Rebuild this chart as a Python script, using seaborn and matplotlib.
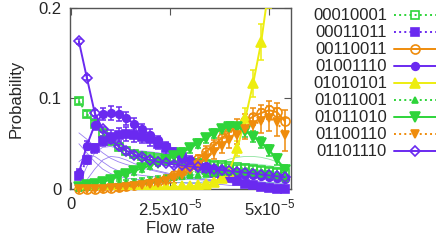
import matplotlib
matplotlib.use('Agg')
import matplotlib.pyplot as plt
import seaborn as sns
import numpy as np

flow_rate = np.array([0.2, 0.4, 0.6, 0.8, 1.0, 1.2, 1.4, 1.6, 1.8, 2.0, 2.2, 2.4, 2.6, 2.8,
                      3.0, 3.2, 3.4, 3.6, 3.8, 4.0, 4.2, 4.4, 4.6, 4.8, 5.0, 5.2, 5.4]) * 1e-5

labels = ['00010001', '00011011', '00110011', '01001110', '01010101',
          '01011001', '01011010', '01100110', '01101110']

p_00010001 = [0.097, 0.083, 0.072, 0.062, 0.053, 0.046, 0.042, 0.039, 0.037, 0.035, 0.034, 0.033, 0.032, 0.031,
              0.030, 0.029, 0.028, 0.027, 0.026, 0.025, 0.024, 0.023, 0.022, 0.021, 0.020, 0.019, 0.018]
p_00011011 = [0.014, 0.032, 0.045, 0.053, 0.058, 0.060, 0.061, 0.060, 0.058, 0.055, 0.050, 0.045, 0.040, 0.035,
              0.030, 0.026, 0.022, 0.018, 0.015, 0.012, 0.009, 0.006, 0.004, 0.002, 0.001, 0.0, 0.0]
p_00110011 = [0.0, 0.0, 0.0, 0.001, 0.001, 0.002, 0.003, 0.004, 0.005, 0.007, 0.009, 0.011, 0.015, 0.020,
              0.026, 0.033, 0.041, 0.048, 0.056, 0.063, 0.069, 0.075, 0.080, 0.084, 0.087, 0.085, 0.075]
p_01001110 = [0.018, 0.048, 0.071, 0.083, 0.084, 0.083, 0.078, 0.072, 0.066, 0.060, 0.054, 0.047, 0.041, 0.036,
              0.032, 0.028, 0.025, 0.022, 0.020, 0.018, 0.017, 0.016, 0.015, 0.014, 0.013, 0.012, 0.011]
p_01010101 = [0.001, 0.001, 0.001, 0.001, 0.001, 0.001, 0.001, 0.001, 0.001, 0.002, 0.002, 0.002, 0.002, 0.003,
              0.003, 0.004, 0.006, 0.008, 0.012, 0.020, 0.045, 0.078, 0.117, 0.162, 0.225, 0.290, 0.350]
p_01011001 = [0.001, 0.002, 0.003, 0.004, 0.005, 0.006, 0.007, 0.008, 0.009, 0.010, 0.011, 0.012, 0.013, 0.014,
              0.015, 0.016, 0.017, 0.018, 0.019, 0.019, 0.019, 0.019, 0.018, 0.017, 0.016, 0.014, 0.012]
p_01011010 = [0.002, 0.004, 0.006, 0.008, 0.010, 0.014, 0.017, 0.020, 0.023, 0.026, 0.029, 0.032, 0.036, 0.040,
              0.045, 0.050, 0.056, 0.061, 0.066, 0.069, 0.068, 0.064, 0.058, 0.051, 0.043, 0.033, 0.021]
p_01100110 = [0.0, 0.0, 0.0, 0.0, 0.001, 0.001, 0.002, 0.003, 0.004, 0.005, 0.007, 0.009, 0.012, 0.016,
              0.021, 0.027, 0.034, 0.041, 0.048, 0.054, 0.060, 0.066, 0.071, 0.075, 0.078, 0.074, 0.060]
p_01101110 = [0.163, 0.123, 0.084, 0.066, 0.055, 0.047, 0.042, 0.038, 0.035, 0.032, 0.030, 0.029, 0.027, 0.026,
              0.025, 0.024, 0.023, 0.022, 0.021, 0.020, 0.019, 0.018, 0.017, 0.016, 0.015, 0.014, 0.013]

# error bar half-widths
e_small = [0.003] * 27
e_00011011 = [0.003, 0.004, 0.005, 0.006, 0.007, 0.007, 0.008, 0.008, 0.007, 0.007, 0.006, 0.006, 0.005, 0.005,
              0.004, 0.004, 0.004, 0.003, 0.003, 0.003, 0.002, 0.002, 0.002, 0.001, 0.001, 0.001, 0.001]
e_00110011 = [0.001, 0.001, 0.001, 0.001, 0.001, 0.001, 0.002, 0.002, 0.002, 0.003, 0.003, 0.003, 0.004, 0.004,
              0.005, 0.005, 0.006, 0.006, 0.007, 0.007, 0.008, 0.008, 0.009, 0.009, 0.010, 0.010, 0.012]
e_01001110 = [0.004, 0.005, 0.006, 0.007, 0.008, 0.008, 0.007, 0.007, 0.006, 0.006, 0.005, 0.005, 0.004, 0.004,
              0.004, 0.003, 0.003, 0.003, 0.003, 0.003, 0.002, 0.002, 0.002, 0.002, 0.002, 0.002, 0.002]
e_01010101 = [0.001, 0.001, 0.001, 0.001, 0.001, 0.001, 0.001, 0.001, 0.001, 0.001, 0.001, 0.001, 0.001, 0.001,
              0.001, 0.002, 0.002, 0.002, 0.003, 0.004, 0.008, 0.012, 0.015, 0.020, 0.025, 0.030, 0.030]
e_01011010 = [0.002, 0.002, 0.002, 0.003, 0.003, 0.003, 0.003, 0.004, 0.004, 0.004, 0.004, 0.005, 0.005, 0.005,
              0.005, 0.005, 0.005, 0.005, 0.005, 0.005, 0.005, 0.006, 0.006, 0.006, 0.006, 0.006, 0.005]
e_01100110 = [0.001, 0.001, 0.001, 0.001, 0.001, 0.002, 0.002, 0.002, 0.003, 0.003, 0.004, 0.004, 0.005, 0.005,
              0.006, 0.006, 0.007, 0.008, 0.008, 0.009, 0.010, 0.011, 0.012, 0.013, 0.014, 0.015, 0.018]

# thin background curves (other genotypes)
bg_purple = [
    [0.062, 0.055, 0.047, 0.040, 0.034, 0.030, 0.027, 0.025, 0.023, 0.021, 0.019, 0.017, 0.015, 0.013,
     0.012, 0.011, 0.010, 0.009, 0.008, 0.007, 0.006, 0.005, 0.005, 0.004, 0.004, 0.003, 0.003],
    [0.005, 0.025, 0.040, 0.046, 0.047, 0.045, 0.043, 0.042, 0.042, 0.041, 0.040, 0.038, 0.036, 0.033,
     0.030, 0.027, 0.024, 0.021, 0.018, 0.015, 0.013, 0.011, 0.009, 0.008, 0.007, 0.006, 0.005],
    [0.050, 0.040, 0.030, 0.022, 0.017, 0.014, 0.012, 0.011, 0.010, 0.009, 0.008, 0.008, 0.007, 0.007,
     0.006, 0.006, 0.005, 0.005, 0.005, 0.004, 0.004, 0.004, 0.003, 0.003, 0.003, 0.002, 0.002],
    [0.002, 0.010, 0.022, 0.032, 0.036, 0.035, 0.032, 0.028, 0.025, 0.022, 0.020, 0.018, 0.016, 0.014,
     0.013, 0.012, 0.011, 0.010, 0.009, 0.008, 0.007, 0.006, 0.005, 0.004, 0.003, 0.003, 0.002],
    [0.030, 0.038, 0.036, 0.030, 0.024, 0.020, 0.018, 0.016, 0.015, 0.014, 0.013, 0.012, 0.012, 0.011,
     0.011, 0.010, 0.010, 0.009, 0.009, 0.008, 0.008, 0.007, 0.007, 0.006, 0.006, 0.005, 0.005],
]
bg_green = [
    [0.000, 0.001, 0.002, 0.003, 0.004, 0.005, 0.006, 0.007, 0.008, 0.009, 0.010, 0.012, 0.014, 0.016,
     0.018, 0.021, 0.024, 0.027, 0.030, 0.033, 0.035, 0.036, 0.036, 0.035, 0.033, 0.030, 0.026],
    [0.000, 0.001, 0.002, 0.002, 0.003, 0.004, 0.005, 0.006, 0.007, 0.008, 0.009, 0.010, 0.011, 0.013,
     0.015, 0.017, 0.019, 0.021, 0.023, 0.025, 0.027, 0.028, 0.028, 0.027, 0.026, 0.024, 0.022],
    [0.001, 0.002, 0.003, 0.004, 0.005, 0.006, 0.007, 0.008, 0.009, 0.010, 0.011, 0.012, 0.013, 0.014,
     0.015, 0.016, 0.017, 0.018, 0.019, 0.020, 0.021, 0.022, 0.022, 0.021, 0.020, 0.019, 0.018],
    [0.001, 0.002, 0.003, 0.004, 0.005, 0.006, 0.007, 0.007, 0.008, 0.008, 0.009, 0.009, 0.010, 0.010,
     0.011, 0.011, 0.012, 0.013, 0.014, 0.015, 0.015, 0.015, 0.015, 0.014, 0.013, 0.012, 0.011],
    [0.002, 0.003, 0.004, 0.004, 0.005, 0.005, 0.005, 0.006, 0.006, 0.006, 0.006, 0.007, 0.007, 0.007,
     0.007, 0.007, 0.008, 0.008, 0.008, 0.008, 0.008, 0.008, 0.008, 0.007, 0.007, 0.007, 0.006],
]
bg_green_colors = ['#8fe3a0', '#a0e8c0', '#9ee0f0', '#80c8e0', '#70b0d0']

purple = '#6a2af0'
green = '#2ed43a'
orange = '#ef8c0c'
yellow = '#eded10'

# label, values, errors, color, linestyle, marker, filled, marker size
series = [
    (labels[0], p_00010001, e_small, green, ':', 's', False, 5.5),
    (labels[1], p_00011011, e_00011011, purple, ':', 's', True, 5.5),
    (labels[2], p_00110011, e_00110011, orange, '-', 'o', False, 6.5),
    (labels[3], p_01001110, e_01001110, purple, '-', 'o', True, 5.5),
    (labels[4], p_01010101, e_01010101, yellow, '-', '^', True, 6.5),
    (labels[5], p_01011001, e_small, green, ':', '^', True, 4),
    (labels[6], p_01011010, e_01011010, green, '-', 'v', True, 6.5),
    (labels[7], p_01100110, e_01100110, orange, ':', 'v', True, 5.5),
    (labels[8], p_01101110, e_small, purple, '-', 'D', False, 5.5),
]

sns.set_style('ticks')
plt.rcParams['font.family'] = ['Liberation Sans', 'DejaVu Sans']
plt.rcParams['mathtext.fontset'] = 'custom'
plt.rcParams['mathtext.rm'] = 'Liberation Sans'

fig = plt.figure(figsize=(4.36, 2.42), dpi=100)
ax = fig.add_axes([0.161, 0.219, 0.507, 0.748])

for ys in bg_purple:
    sns.lineplot(x=flow_rate, y=ys, ax=ax, color='#9a80f0', lw=0.6, legend=False)
for ys, c in zip(bg_green, bg_green_colors):
    sns.lineplot(x=flow_rate, y=ys, ax=ax, color=c, lw=0.6, legend=False)

handles = []
for lab, ys, es, col, ls, mk, filled, ms in series:
    clip = (lab == '01010101')
    ax.errorbar(flow_rate, ys, yerr=es, fmt='none', ecolor=col, elinewidth=1.1,
                capsize=2, capthick=1.1, clip_on=clip, zorder=3)
    sns.lineplot(x=flow_rate, y=ys, ax=ax, color=col, linestyle=ls, lw=1.4,
                 marker=mk, markersize=ms, markeredgecolor=col, markeredgewidth=1.2,
                 markerfacecolor=col if filled else 'none', clip_on=clip, zorder=4,
                 label=lab, legend=False)
    handles.append(ax.lines[-1])

ax.set_xlim(-0.02e-5, 5.56e-5)
ax.set_ylim(0, 0.2)
ax.set_xticks([0, 2.5e-5, 5e-5])
ax.set_xticklabels(['0', r'2.5x10$^{-5}$', r'5x10$^{-5}$'])
ax.set_yticks([0, 0.1, 0.2])
ax.set_yticklabels(['0', '0.1', '0.2'])
ax.tick_params(direction='in', length=5, width=0.8, top=True, right=True,
               labelsize=12, pad=6, color='#555555')
for sp in ax.spines.values():
    sp.set_color('#555555')
    sp.set_linewidth(1.0)
ax.set_xlabel('Flow rate', fontsize=12, labelpad=2)
ax.set_ylabel('Probability', fontsize=12, labelpad=11)

fig.legend(handles, labels, loc='upper left', bbox_to_anchor=(0.718, 0.965),
           frameon=False, markerfirst=False, fontsize=12, handlelength=2.6,
           handletextpad=0.4, labelspacing=0.12, borderpad=0, borderaxespad=0)

fig.savefig('out.png', dpi=100)
